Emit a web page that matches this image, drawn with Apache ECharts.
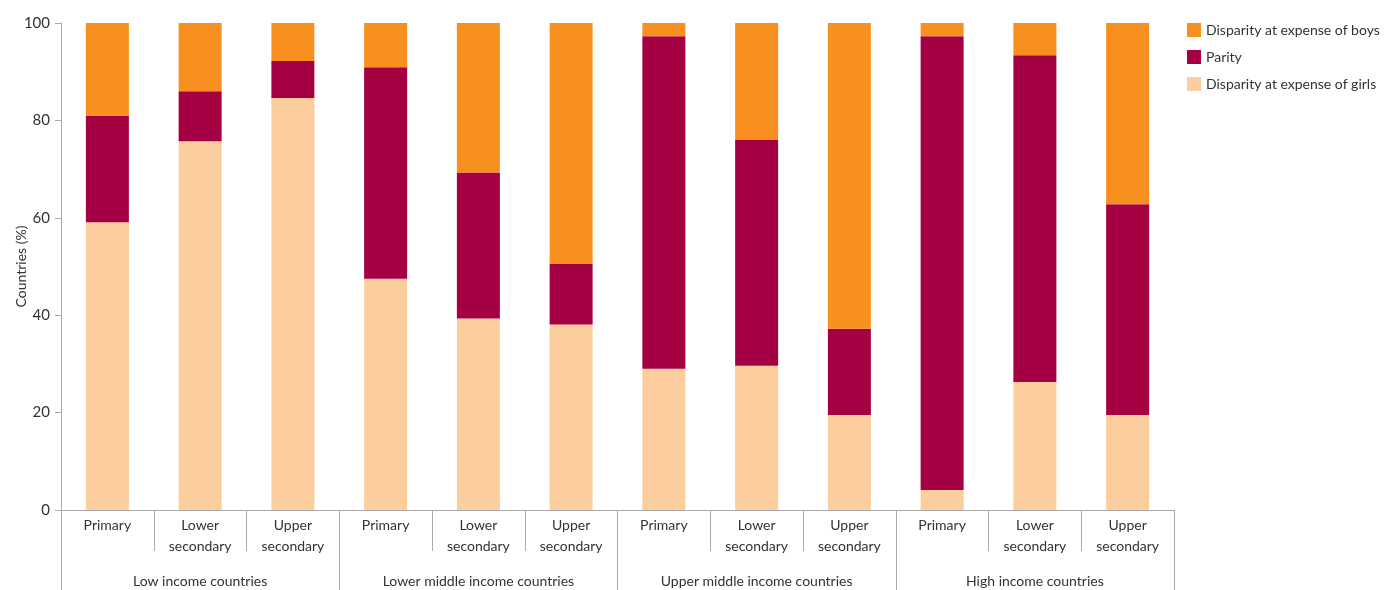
<!DOCTYPE html>
<html>
<head>
<meta charset="utf-8">
<script src="https://cdn.jsdelivr.net/npm/echarts@6/dist/echarts.min.js"></script>
<style>
html,body{margin:0;padding:0;background:#fff;}
#chart{width:1384px;height:590px;}
</style>
</head>
<body>
<div id="chart"></div>
<script>
const categories = ["Primary","Lower\nsecondary","Upper\nsecondary","Primary","Lower\nsecondary","Upper\nsecondary","Primary","Lower\nsecondary","Upper\nsecondary","Primary","Lower\nsecondary","Upper\nsecondary"];
const groups = ["Low income countries","Lower middle income countries","Upper middle income countries","High income countries"];
const girls = [59.1, 75.7, 84.6, 47.5, 39.3, 38.1, 29.0, 29.6, 19.5, 4.1, 26.3, 19.5];
const parity = [21.8, 10.3, 7.6, 43.4, 30.0, 12.5, 68.3, 46.5, 17.7, 93.2, 67.1, 43.3];
const boys = [19.1, 14.0, 7.8, 9.1, 30.7, 49.4, 2.7, 23.9, 62.8, 2.7, 6.6, 37.2];
const yTicks = [0, 20, 40, 60, 80, 100];

const FONT = 'Lato';
const AXIS = '#aaaaaa';
const TXT = '#333333';

const chart = echarts.init(document.getElementById('chart'), null, {renderer:'canvas'});
chart.setOption({
  animation:false,
  textStyle:{fontFamily:FONT},
  grid:{left:61, right:210, top:23, bottom:80, containLabel:false, outerBoundsMode:'none'},
  legend:{
    data:['Disparity at expense of boys','Parity','Disparity at expense of girls'],
    orient:'vertical', left:1187, top:23, padding:0,
    itemWidth:14, itemHeight:14, itemGap:13, icon:'rect',
    textStyle:{fontFamily:FONT, fontSize:14, color:TXT}
  },
  xAxis:[
    {type:'category', data:categories, position:'bottom', gridIndex:0,
     axisLine:{show:true, lineStyle:{color:AXIS, width:1}},
     axisTick:{show:true, length:41, lineStyle:{color:AXIS}},
     axisLabel:{interval:0, color:TXT, fontSize:14, fontFamily:FONT, lineHeight:21, margin:5}
    },
    {type:'category', data:groups, position:'bottom', gridIndex:0, offset:0,
     axisLine:{show:true, lineStyle:{color:AXIS, width:1}},
     axisTick:{show:true, length:80, lineStyle:{color:AXIS}},
     axisLabel:{interval:0, color:TXT, fontSize:14, fontFamily:FONT, margin:64}
    }
  ],
  yAxis:{type:'value', min:0, max:100, interval:20,
    name:'Countries (%)', nameLocation:'middle', nameGap:33, nameRotate:90, nameMoveOverlap:false,
    nameTextStyle:{fontFamily:FONT, fontSize:14, color:TXT},
    axisLine:{show:true, lineStyle:{color:AXIS}},
    axisTick:{show:true, length:6, lineStyle:{color:AXIS}},
    splitLine:{show:false},
    axisLabel:{color:TXT, fontSize:15, fontFamily:FONT, margin:11,
      formatter:function(v){return yTicks.indexOf(v)>=0?String(v):'';}}
  },
  series:[
    {name:'Disparity at expense of girls', type:'bar', stack:'s', data:girls, barWidth:43, itemStyle:{color:'#FCCE9E'}},
    {name:'Parity', type:'bar', stack:'s', data:parity, barWidth:43, itemStyle:{color:'#A50044'}},
    {name:'Disparity at expense of boys', type:'bar', stack:'s', data:boys, barWidth:43, itemStyle:{color:'#F7901E'}}
  ]
});
</script>
</body>
</html>
